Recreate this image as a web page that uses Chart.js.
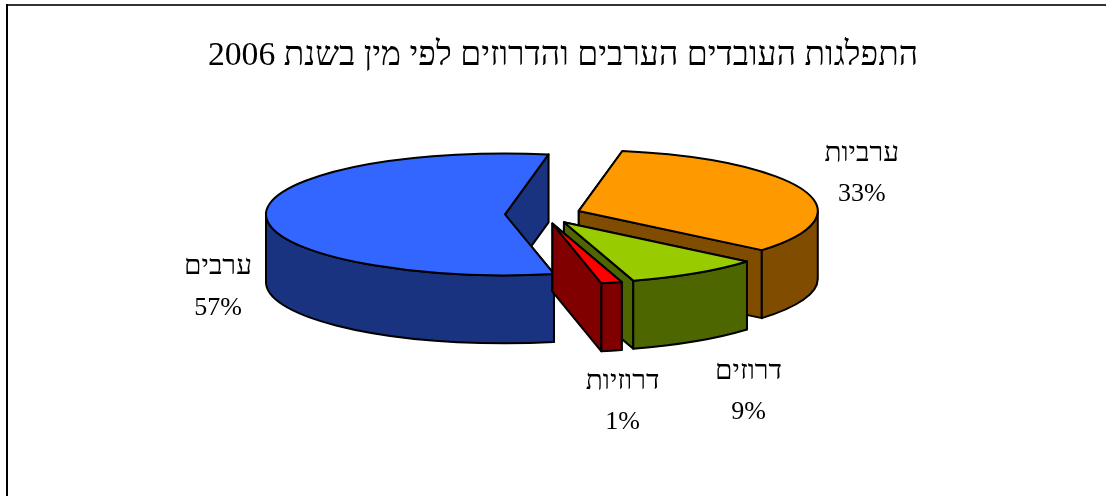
<!DOCTYPE html>
<html>
<head>
<meta charset="utf-8">
<style>
    html, body { margin: 0; padding: 0; background: #fff; }
    canvas { display: block; }
</style>
<script src="https://cdn.jsdelivr.net/npm/chart.js@4"></script>
</head>
<body>
<canvas id="pieChart" width="1106" height="496" dir="rtl"></canvas>
<script>
const categories = ["ערביות", "דרוזים", "דרוזיות", "ערבים"];
// slice sizes, the printed labels are the rounded ones of the original
const sliceValues = [33.2, 9.2, 1.4, 56.2];
const percentLabels = ["33%", "9%", "1%", "57%"];
const topColors = ["#FF9900", "#99CC00", "#FF0000", "#3366FF"];
const sideColors = ["#804C00", "#4D6600", "#800000", "#1A3380"];
const chartTitle = "התפלגות העובדים הערבים והדרוזים לפי מין בשנת 2006";

// label distance from the rim point at the middle of each slice
const labelNudge = [[58, -17], [53, 118], [11, 119], [-48, 72]];

const squash = 0.255;
const depth = 68;
const pieShiftX = -20; // the title sits right of the pie center
const fontName = "'Liberation Serif'";

const pie3d = {
    id: "pie3d",
    beforeDraw(chart) {
        const ctx = chart.ctx;
        ctx.save();
        ctx.lineWidth = 2;
        ctx.strokeStyle = "#333";
        ctx.beginPath();
        ctx.moveTo(6, 5);
        ctx.lineTo(1106, 5);
        ctx.stroke();
        ctx.strokeStyle = "#000";
        ctx.beginPath();
        ctx.moveTo(7, 4);
        ctx.lineTo(7, 496);
        ctx.stroke();
        ctx.restore();
    },
    beforeDatasetDraw() {
        return false; // the slices are painted in afterDatasetsDraw
    },
    afterDatasetsDraw(chart) {
        const ctx = chart.ctx;
        const arcs = chart.getDatasetMeta(0).data;
        const order = arcs.map((a, i) => i).sort((p, q) => midSin(arcs[p]) - midSin(arcs[q]));

        ctx.save();
        ctx.lineWidth = 2;
        ctx.lineJoin = "round";
        ctx.strokeStyle = "#000";
        order.forEach(i => drawSlice(ctx, arcs[i], topColors[i], sideColors[i]));
        ctx.restore();

        ctx.save();
        ctx.textAlign = "center";
        ctx.textBaseline = "middle";
        ctx.fillStyle = "#000";
        arcs.forEach((arc, i) => {
            const c = sliceCenter(arc);
            const mid = (arc.startAngle + arc.endAngle) / 2;
            const x = c.x + Math.cos(mid) * c.rx + labelNudge[i][0];
            const y = c.y + Math.sin(mid) * c.ry + labelNudge[i][1];
            ctx.direction = "rtl";
            ctx.font = "28px " + fontName;
            ctx.fillText(categories[i], x, y - 20);
            ctx.direction = "ltr";
            ctx.font = "26px " + fontName;
            ctx.fillText(percentLabels[i], x, y + 21);
        });
        ctx.restore();
    }
};

function midSin(arc) {
    return Math.sin((arc.startAngle + arc.endAngle) / 2);
}

// pie center of the slice after it was pulled out by its offset
function sliceCenter(arc) {
    const mid = (arc.startAngle + arc.endAngle) / 2;
    const off = arc.options.offset;
    return {
        x: arc.x + pieShiftX + Math.cos(mid) * off,
        y: arc.y + Math.sin(mid) * off * squash,
        rx: arc.outerRadius,
        ry: arc.outerRadius * squash
    };
}

function drawSlice(ctx, arc, top, side) {
    const c = sliceCenter(arc);
    const a0 = arc.startAngle;
    const a1 = arc.endAngle;

    // cut faces
    [a0, a1].forEach(a => {
        const rimX = c.x + Math.cos(a) * c.rx;
        const rimY = c.y + Math.sin(a) * c.ry;
        ctx.beginPath();
        ctx.moveTo(c.x, c.y);
        ctx.lineTo(rimX, rimY);
        ctx.lineTo(rimX, rimY + depth);
        ctx.lineTo(c.x, c.y + depth);
        ctx.closePath();
        ctx.fillStyle = side;
        ctx.fill();
        ctx.stroke();
    });

    // rim wall, only the part that faces the viewer
    [0, Math.PI * 2].forEach(shift => {
        const from = Math.max(a0, shift);
        const to = Math.min(a1, shift + Math.PI);
        if (to <= from) return;
        ctx.beginPath();
        ctx.ellipse(c.x, c.y, c.rx, c.ry, 0, from, to);
        ctx.ellipse(c.x, c.y + depth, c.rx, c.ry, 0, to, from, true);
        ctx.closePath();
        ctx.fillStyle = side;
        ctx.fill();
        ctx.stroke();
    });

    // top face
    ctx.beginPath();
    ctx.moveTo(c.x, c.y);
    ctx.ellipse(c.x, c.y, c.rx, c.ry, 0, a0, a1);
    ctx.closePath();
    ctx.fillStyle = top;
    ctx.fill();
    ctx.stroke();
}

new Chart(document.getElementById("pieChart").getContext("2d"), {
    type: "pie",
    data: {
        labels: categories,
        datasets: [{
            data: sliceValues,
            backgroundColor: topColors,
            offset: 38
        }]
    },
    options: {
        responsive: false,
        animation: false,
        rotation: 10.5,
        radius: 239,
        layout: { padding: { left: 20, right: 0, top: 0, bottom: 148 } },
        plugins: {
            legend: { display: false },
            tooltip: { enabled: false },
            title: {
                display: true,
                text: chartTitle,
                color: "#000",
                font: { family: fontName, size: 33.7, weight: "normal" },
                padding: { top: 36, bottom: 4 }
            }
        }
    },
    plugins: [pie3d]
});
</script>
</body>
</html>
